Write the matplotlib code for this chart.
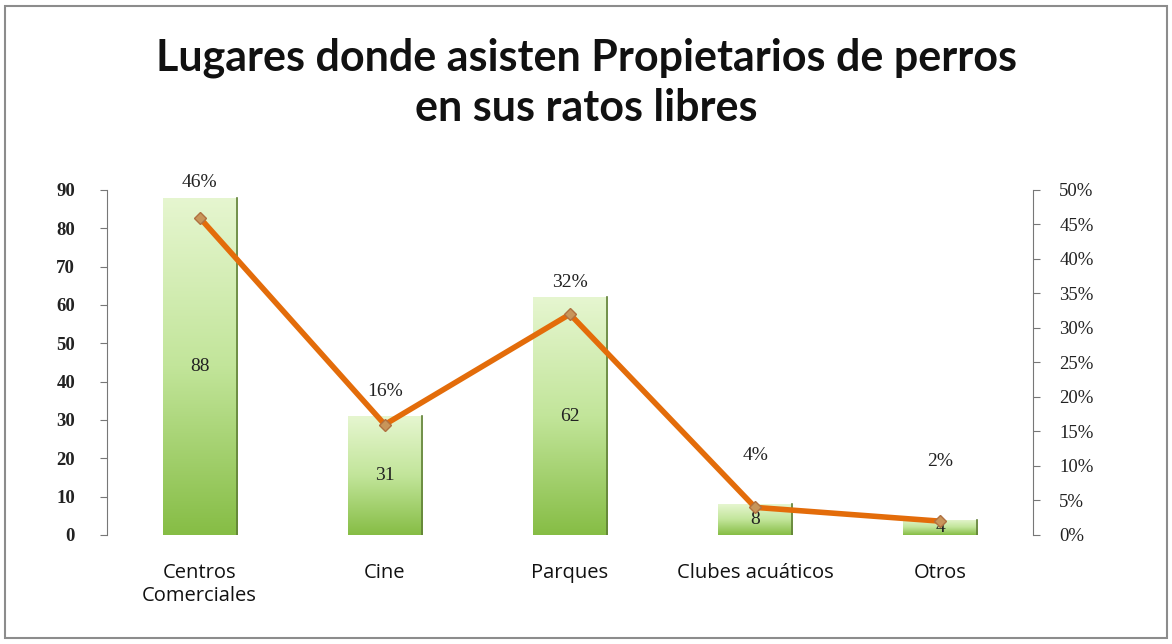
import numpy as np
import matplotlib.pyplot as plt
from matplotlib.patches import Rectangle
from matplotlib.colors import LinearSegmentedColormap
from matplotlib.ticker import FuncFormatter

# === data ===
categorias = ["Centros\nComerciales", "Cine", "Parques", "Clubes acuáticos", "Otros"]
cantidad = [88, 31, 62, 8, 4]
porcentaje = [0.46, 0.16, 0.32, 0.04, 0.02]
pct_labels = ["46%", "16%", "32%", "4%", "2%"]

# === plot ===
fig = plt.figure(figsize=(11.72, 6.44), dpi=100)
fig.patch.set_facecolor("white")
fig.patches.append(Rectangle((5 / 1172, 6 / 644), 1162 / 1172, 632 / 644,
                             transform=fig.transFigure, fill=False,
                             edgecolor="#8c8c8c", linewidth=1.5))

ax = fig.add_axes([0.0913, 0.1693, 0.790, 0.5357])
x = np.arange(len(categorias))

bars = ax.bar(x, cantidad, width=0.4, color="none", edgecolor="none", zorder=2)
cmap = LinearSegmentedColormap.from_list("verde", ["#86bd45", "#c2e59a", "#e6f6d0"])
grad = np.linspace(0, 1, 256).reshape(-1, 1)
for b, v in zip(bars, cantidad):
    x0, w, h = b.get_x(), b.get_width(), b.get_height()
    im = ax.imshow(grad, extent=(x0, x0 + w, 0, h), origin="lower", cmap=cmap,
                   aspect="auto", zorder=2)
    im.set_clip_path(b)
    ax.plot([x0 + w, x0 + w], [0, h], color="#5f7f35", lw=1.2, zorder=3)
    ax.text(x0 + w / 2, h / 2, str(v), ha="center", va="center", fontsize=14,
            family="Liberation Serif", color="#222222", zorder=5)

ax.set_xlim(-0.5, len(categorias) - 0.5)
ax.set_ylim(0, 90)
ax.set_yticks(range(0, 91, 10))
ax.set_xticks(x)
ax.set_xticklabels(categorias, fontsize=14.5, family="Open Sans", color="#111111",
                   linespacing=1.25)
ax.tick_params(axis="x", length=0, pad=20)
ax.tick_params(axis="y", direction="out", length=5, color="#777777", pad=18)
for lab in ax.get_yticklabels():
    lab.set_family("Liberation Serif")
    lab.set_fontweight("bold")
    lab.set_fontsize(13.5)
    lab.set_color("#222222")
for s in ["top", "right", "bottom"]:
    ax.spines[s].set_visible(False)
ax.spines["left"].set_color("#777777")

ax2 = ax.twinx()
ax2.set_ylim(0, 0.5)
ax2.set_yticks(np.arange(0, 0.51, 0.05))
ax2.yaxis.set_major_formatter(FuncFormatter(lambda v, p: f"{int(round(v * 100))}%"))
ax2.tick_params(axis="y", direction="out", length=5, color="#777777", pad=14)
for lab in ax2.get_yticklabels():
    lab.set_family("Liberation Serif")
    lab.set_fontsize(13.5)
    lab.set_color("#222222")
for s in ["top", "left", "bottom"]:
    ax2.spines[s].set_visible(False)
ax2.spines["right"].set_color("#777777")

ax2.plot(x, porcentaje, color="#e36c0a", lw=4, marker="D", markersize=6,
         markerfacecolor="#c8955a", markeredgecolor="#b07040", zorder=4)
offsets = [25, 24, 23, 37, 43]
for xi, p, lbl, off in zip(x, porcentaje, pct_labels, offsets):
    ax2.annotate(lbl, (xi, p), xytext=(0, off), textcoords="offset points",
                 ha="center", va="center", fontsize=14, family="Liberation Serif",
                 color="#222222")

fig.text(0.5, 0.872, "Lugares donde asisten Propietarios de perros\nen sus ratos libres",
         ha="center", va="center", fontsize=31, fontweight="bold", family="Lato",
         linespacing=1.3, color="#111111")

fig.savefig("out.png", dpi=100, facecolor="white")
